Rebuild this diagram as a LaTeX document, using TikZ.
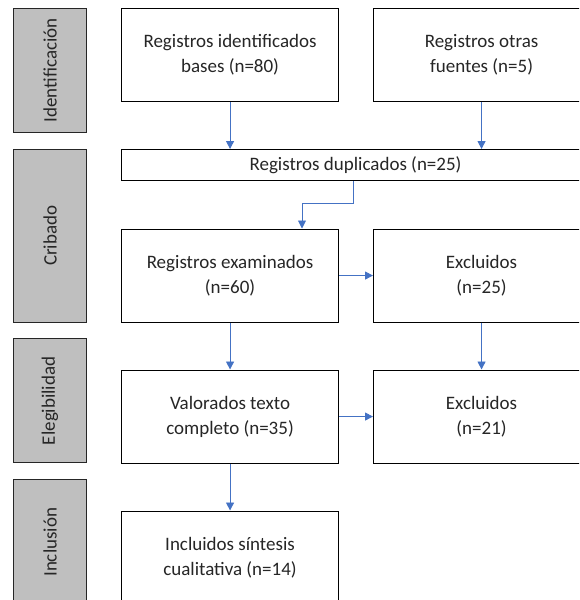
\documentclass[tikz,border=0pt]{standalone}
\usepackage{fontspec}
\setmainfont{Carlito}
\usetikzlibrary{arrows.meta}
\definecolor{arrowblue}{HTML}{4472C4}
\definecolor{phasegray}{HTML}{BFBFBF}
\definecolor{txt}{HTML}{262626}
\begin{document}
\begin{tikzpicture}[x=1pt,y=-1pt,
  box/.style={draw=black, line width=1.1pt, fill=white, anchor=north west,
    font=\fontsize{19}{25}\selectfont, text=txt, align=center, inner sep=0pt},
  phase/.style={draw=black!85, line width=1pt, fill=phasegray, anchor=north west,
    minimum width=73pt, inner sep=0pt},
  phasetext/.style={rotate=90, font=\fontsize{19}{25}\selectfont, text=txt},
  arr/.style={draw=arrowblue, line width=0.9pt, -{Triangle[width=8pt,length=8pt]}}]
\useasboundingbox (0,0) rectangle (579,600);
\clip (0,0) rectangle (579,600);
\fill[white] (0,0) rectangle (579,600);

% phase boxes
\node[phase, minimum height=124pt] (p1) at (13,8) {};
\node[phasetext] (t1) at (p1.center) {Identificación};
\node[phase, minimum height=172.5pt] (p2) at (13,149) {};
\node[phasetext] (t2) at (p2.center) {Cribado};
\node[phase, minimum height=124pt] (p3) at (13,338.3) {};
\node[phasetext] (t3) at (p3.center) {Elegibilidad};
\node[phase, minimum height=125pt] (p4) at (13,479.3) {};
\node[phasetext] (t4) at (p4.center) {Inclusión};

% main boxes
\node[box, minimum width=217pt, minimum height=93pt] (b1) at (121,8) {Registros identificados\\bases (n=80)};
\node[box, minimum width=216pt, minimum height=93pt] (b2) at (373,8) {Registros otras\\fuentes (n=5)};
\node[box, minimum width=468pt, minimum height=31pt] (dup) at (121,149) {Registros duplicados (n=25)};
\node[box, minimum width=217pt, minimum height=93pt] (ex) at (121,228.5) {Registros examinados\\(n=60)};
\node[box, minimum width=216pt, minimum height=93pt] (exc1) at (373,228.5) {Excluidos\\(n=25)};
\node[box, minimum width=217pt, minimum height=93pt] (val) at (121,369.5) {Valorados texto\\completo (n=35)};
\node[box, minimum width=216pt, minimum height=93pt] (exc2) at (373,369.5) {Excluidos\\(n=21)};
\node[box, minimum width=217pt, minimum height=93pt] (inc) at (121,510.5) {Incluidos síntesis\\cualitativa (n=14)};

% connectors
\coordinate (e1) at (353.5,203.5);
\coordinate (e2) at (302,203.5);
\draw[arr] (b1.south) -- (b1.south |- dup.north);
\draw[arr] (b2.south) -- (b2.south |- dup.north);
\draw[arr] (dup.south -| e1) -- (e1) -- (e2) -- (e2 |- ex.north);
\draw[arr] (ex.east) -- (exc1.west);
\draw[arr] (ex.south) -- (val.north);
\draw[arr] (exc1.south) -- (exc2.north);
\draw[arr] (val.east) -- (exc2.west);
\draw[arr] (val.south) -- (inc.north);
\end{tikzpicture}
\end{document}
